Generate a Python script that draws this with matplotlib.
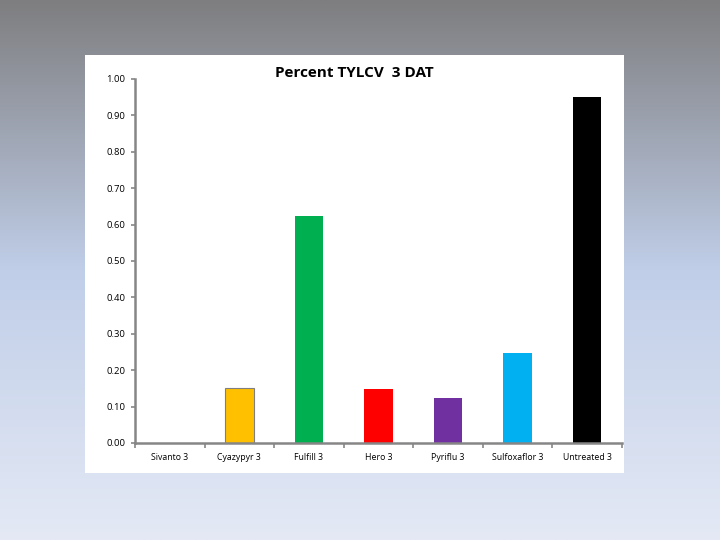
import numpy as np
import matplotlib
matplotlib.use("Agg")
import matplotlib.pyplot as plt
from matplotlib.patches import Rectangle

# ===== data =====
TITLE = "Percent TYLCV  3 DAT"
categories = ["Sivanto 3", "Cyazypyr 3", "Fulfill 3", "Hero 3", "Pyriflu 3", "Sulfoxaflor 3", "Untreated 3"]
values = [0.0, 0.150, 0.624, 0.148, 0.124, 0.247, 0.951]
colors = ["#FFFFFF", "#FFC000", "#00B050", "#FF0000", "#7030A0", "#00B0F0", "#000000"]
yticks = [0.0, 0.1, 0.2, 0.3, 0.4, 0.5, 0.6, 0.7, 0.8, 0.9, 1.0]

OUT = "out.png"
plt.rcParams["font.family"] = ["Open Sans", "DejaVu Sans"]


def main():
    fig = plt.figure(figsize=(7.2, 5.4), dpi=100)

    # slide style background: grey on top fading to pale blue
    bg = fig.add_axes([0, 0, 1, 1], zorder=-10)
    t = np.linspace(0, 1, 256)[:, None]
    top = np.array([126, 126, 128]) / 255
    mid = np.array([192, 206, 232]) / 255
    bot = np.array([228, 233, 245]) / 255
    grad = np.where(t < 0.5, top + (mid - top) * (t / 0.5),
                    mid + (bot - mid) * ((t - 0.5) / 0.5))
    bg.imshow(grad[:, None, :].repeat(2, axis=1), aspect="auto", extent=[0, 1, 0, 1])
    bg.set_axis_off()

    # white chart panel
    fig.patches.append(Rectangle((85 / 720, 1 - 473 / 540), 539 / 720, 418 / 540,
                                 transform=fig.transFigure, facecolor="white",
                                 edgecolor="none", zorder=-5))

    ax = fig.add_axes([135 / 720, 1 - 443 / 540, 487 / 720, 364 / 540])
    ax.patch.set_alpha(0)
    x = np.arange(len(categories))
    edges = ["#7f7f7f" if c == "#FFC000" else "none" for c in colors]
    ax.bar(x, values, width=0.41, color=colors, edgecolor=edges, linewidth=0.8)

    ax.set_xlim(-0.5, len(categories) - 0.5)
    ax.set_ylim(0, 1.0)
    ax.set_yticks(yticks)
    ax.set_yticklabels([f"{v:.2f}" for v in yticks], fontsize=6.8)
    ax.set_xticks(x)
    ax.set_xticklabels(categories, fontsize=6.3)
    ax.tick_params(axis="x", length=0, pad=7)
    ax.set_xticks(np.arange(-0.5, len(categories)), minor=True)
    ax.tick_params(axis="x", which="minor", length=3.5, width=1.2, color="#868686")
    ax.tick_params(axis="y", length=3, width=1.2, color="#868686", pad=4)
    for s in ["top", "right"]:
        ax.spines[s].set_visible(False)
    for s in ["left", "bottom"]:
        ax.spines[s].set_color("#868686")
        ax.spines[s].set_linewidth(1.8)

    fig.text(354 / 720, 1 - 73 / 540, TITLE, ha="center", va="center",
             fontsize=11, fontweight="bold")

    fig.savefig(OUT, dpi=100)


if __name__ == "__main__":
    main()
